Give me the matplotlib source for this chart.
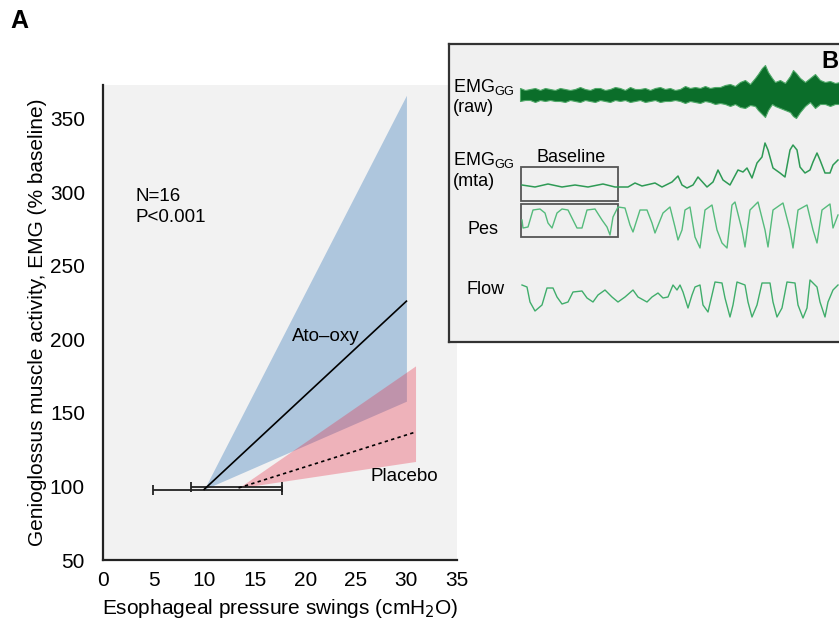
import matplotlib
matplotlib.use("Agg")
import matplotlib.pyplot as plt
from matplotlib.patches import Rectangle

plt.rcParams['font.family'] = ['Liberation Sans', 'DejaVu Sans']

# ---------------- Panel A data ----------------
ato_x = [10, 30]
ato_mean = [98, 226]
ato_upper = [98, 366]
ato_lower = [98, 158]

pla_x = [13.4, 30.9]
pla_mean = [99, 137]
pla_upper = [99, 182]
pla_lower = [99, 117]

# horizontal error bars: (y, center, left end, right end)
eb_ato = (97.6, 10.0, 4.95, 17.7)
eb_pla = (99.8, 13.3, 8.7, 17.7)

x_ticks = [0, 5, 10, 15, 20, 25, 30, 35]
y_ticks = [50, 100, 150, 200, 250, 300, 350]

# ---------------- Panel B data (inset pixel coordinates) ----------------
raw_x = [520, 525, 530, 535, 540, 545, 550, 555, 560, 565, 570, 575, 580, 585, 590, 595,
         600, 605, 610, 615, 620, 625, 630, 635, 640, 645, 650, 655, 660, 665, 670, 675,
         680, 685, 690, 695, 700, 705, 710, 715, 720, 725, 730, 735, 740, 745, 750, 755,
         758, 762, 765, 768, 772, 775, 780, 785, 790, 793, 796, 800, 805, 810, 815, 820,
         825, 830, 835, 840]
raw_top = [88, 90, 89, 88, 90, 88, 89, 90, 88, 89, 90, 89, 87, 89, 90, 88,
           88, 90, 89, 87, 88, 90, 87, 89, 89, 88, 90, 88, 87, 89, 88, 90,
           89, 86, 88, 87, 88, 86, 88, 87, 87, 85, 84, 86, 82, 80, 84, 78,
           74, 68, 65, 72, 78, 82, 80, 83, 76, 70, 73, 78, 82, 78, 74, 80,
           82, 81, 83, 82]
raw_bot = [101, 100, 100, 102, 100, 101, 100, 101, 101, 102, 100, 101, 102, 100, 101, 102,
           100, 101, 102, 100, 101, 100, 102, 101, 100, 102, 101, 100, 102, 101, 101, 100,
           101, 103, 101, 102, 103, 101, 102, 104, 103, 104, 106, 104, 107, 108, 105, 106,
           110, 114, 117, 110, 104, 106, 108, 110, 112, 116, 118, 112, 106, 102, 108, 104,
           104, 106, 104, 104]

mta_x = [522, 535, 548, 562, 575, 588, 603, 615, 628, 635, 642, 655, 662, 672, 678, 682,
         687, 693, 698, 707, 713, 718, 723, 730, 738, 743, 747, 752, 757, 762, 765, 768,
         773, 780, 785, 790, 793, 797, 800, 805, 810, 813, 817, 820, 825, 830, 833, 838]
mta_y = [185, 187, 184, 187, 185, 187, 184, 187, 187, 183, 186, 183, 187, 182, 176, 185,
         188, 185, 177, 187, 182, 170, 180, 185, 170, 172, 168, 178, 163, 157, 143, 150,
         168, 173, 177, 150, 145, 150, 167, 173, 170, 162, 153, 160, 173, 173, 165, 160]

pes_x = [522, 523, 528, 533, 540, 545, 548, 552, 557, 562, 568, 573, 577, 582, 587, 595,
         602, 607, 610, 613, 618, 625, 630, 633, 640, 647, 652, 655, 663, 670, 675, 678,
         682, 685, 690, 695, 700, 705, 712, 717, 722, 727, 732, 735, 742, 745, 750, 758,
         765, 768, 773, 783, 790, 793, 798, 807, 813, 817, 822, 830, 833, 838]
pes_y = [220, 228, 227, 210, 209, 213, 223, 228, 213, 209, 210, 220, 228, 228, 210, 209,
         220, 227, 235, 217, 207, 208, 225, 232, 210, 210, 223, 233, 213, 207, 227, 240,
         230, 210, 207, 237, 248, 210, 205, 230, 243, 248, 205, 202, 230, 247, 210, 202,
         230, 247, 210, 203, 230, 248, 210, 205, 230, 243, 210, 204, 228, 215]

flow_x = [522, 527, 530, 535, 542, 547, 553, 557, 562, 568, 573, 582, 587, 593, 598, 605,
          612, 618, 625, 633, 638, 647, 652, 658, 663, 668, 673, 677, 680, 683, 688, 692,
          695, 700, 703, 708, 712, 715, 722, 725, 730, 733, 737, 745, 748, 752, 757, 762,
          770, 773, 777, 782, 787, 795, 798, 803, 807, 810, 817, 820, 825, 828, 833, 838]
flow_y = [285, 287, 302, 311, 305, 288, 288, 297, 304, 302, 292, 291, 298, 302, 295, 290,
          297, 302, 297, 290, 297, 302, 297, 293, 298, 297, 285, 290, 285, 292, 308, 295,
          287, 285, 305, 312, 295, 282, 283, 298, 317, 305, 282, 285, 302, 317, 305, 283,
          283, 302, 317, 308, 282, 283, 305, 318, 308, 280, 287, 302, 317, 302, 290, 285]

# ---------------- Figure ----------------
fig = plt.figure(figsize=(8.39, 6.24), dpi=100)
W, H = 839, 624

ax = fig.add_axes([103 / W, (H - 560) / H, 354 / W, (560 - 85) / H])
ax.set_facecolor('#f2f2f2')

ax.fill_between(ato_x, ato_lower, ato_upper, color='#aec6dd', lw=0, zorder=1)
ax.fill_between(pla_x, pla_lower, pla_upper, color='#e8203a', alpha=0.30, lw=0, zorder=2)
ax.plot(ato_x, ato_mean, color='black', lw=1.2, zorder=4)
ax.plot(pla_x, pla_mean, color='black', lw=1.2, ls=(0, (2, 2)), zorder=4)

for (yy, cx, lo, hi) in (eb_ato, eb_pla):
    ax.errorbar([cx], [yy], xerr=[[cx - lo], [hi - cx]], fmt='none', ecolor='#222222',
                elinewidth=1.3, capsize=3.5, capthick=1.3, zorder=3)

ax.text(3.2, 297, 'N=16', fontsize=13.5, va='center', ha='left')
ax.text(3.2, 283, 'P<0.001', fontsize=13.5, va='center', ha='left')
ax.text(22.0, 202, 'Ato–oxy', fontsize=13.5, va='center', ha='center')
ax.text(26.4, 107, 'Placebo', fontsize=13.5, va='center', ha='left')

ax.set_xlim(0, 35)
ax.set_ylim(50, 373)
ax.set_xticks(x_ticks)
ax.set_yticks(y_ticks)
ax.tick_params(length=0, labelsize=15)
ax.tick_params(axis='y', pad=13)
ax.tick_params(axis='x', pad=8)
for s in ('top', 'right'):
    ax.spines[s].set_visible(False)
for s in ('left', 'bottom'):
    ax.spines[s].set_linewidth(1.6)
    ax.spines[s].set_color('#222222')
ax.set_xlabel('Esophageal pressure swings (cmH$_2$O)', fontsize=15, labelpad=5)
ax.set_ylabel('Genioglossus muscle activity, EMG (% baseline)', fontsize=15, labelpad=2)

fig.text(19 / W, 1 - 21 / H, 'A', fontsize=18, fontweight='bold', va='center', ha='center')

# ---------------- Inset B ----------------
bx = fig.add_axes([449 / W, (H - 342) / H, (848 - 449) / W, (342 - 44) / H])
bx.set_facecolor('#f0f0f0')
bx.set_xlim(449, 848)
bx.set_ylim(342, 44)
bx.set_xticks([])
bx.set_yticks([])
for s in bx.spines.values():
    s.set_linewidth(1.6)
    s.set_color('#333333')
bx.set_zorder(5)

bx.fill_between(raw_x, raw_top, raw_bot, color='#0b6e2a', lw=0.8, edgecolor='#4fa868')
bx.plot(mta_x, mta_y, color='#2e9a55', lw=1.1)
bx.plot(pes_x, pes_y, color='#55bb7c', lw=1.0)
bx.plot(flow_x, flow_y, color='#40ad6b', lw=1.0)

bx.add_patch(Rectangle((521, 167), 97, 34, fill=False, edgecolor='#555555', lw=1.3))
bx.add_patch(Rectangle((521, 204), 97, 33, fill=False, edgecolor='#555555', lw=1.3))

fs_b = 13
bx.text(453, 87, 'EMG$_{\\mathregular{GG}}$', fontsize=fs_b, va='center', ha='left')
bx.text(453, 108, '(raw)', fontsize=fs_b, va='center', ha='left')
bx.text(453, 160, 'EMG$_{\\mathregular{GG}}$', fontsize=fs_b, va='center', ha='left')
bx.text(453, 181, '(mta)', fontsize=fs_b, va='center', ha='left')
bx.text(571, 158, 'Baseline', fontsize=fs_b, va='center', ha='center')
bx.text(467, 230, 'Pes', fontsize=fs_b, va='center', ha='left')
bx.text(466, 290, 'Flow', fontsize=fs_b, va='center', ha='left')
bx.text(821, 62, 'B', fontsize=17, fontweight='bold', va='center', ha='left')

fig.savefig('out.png', dpi=100)
